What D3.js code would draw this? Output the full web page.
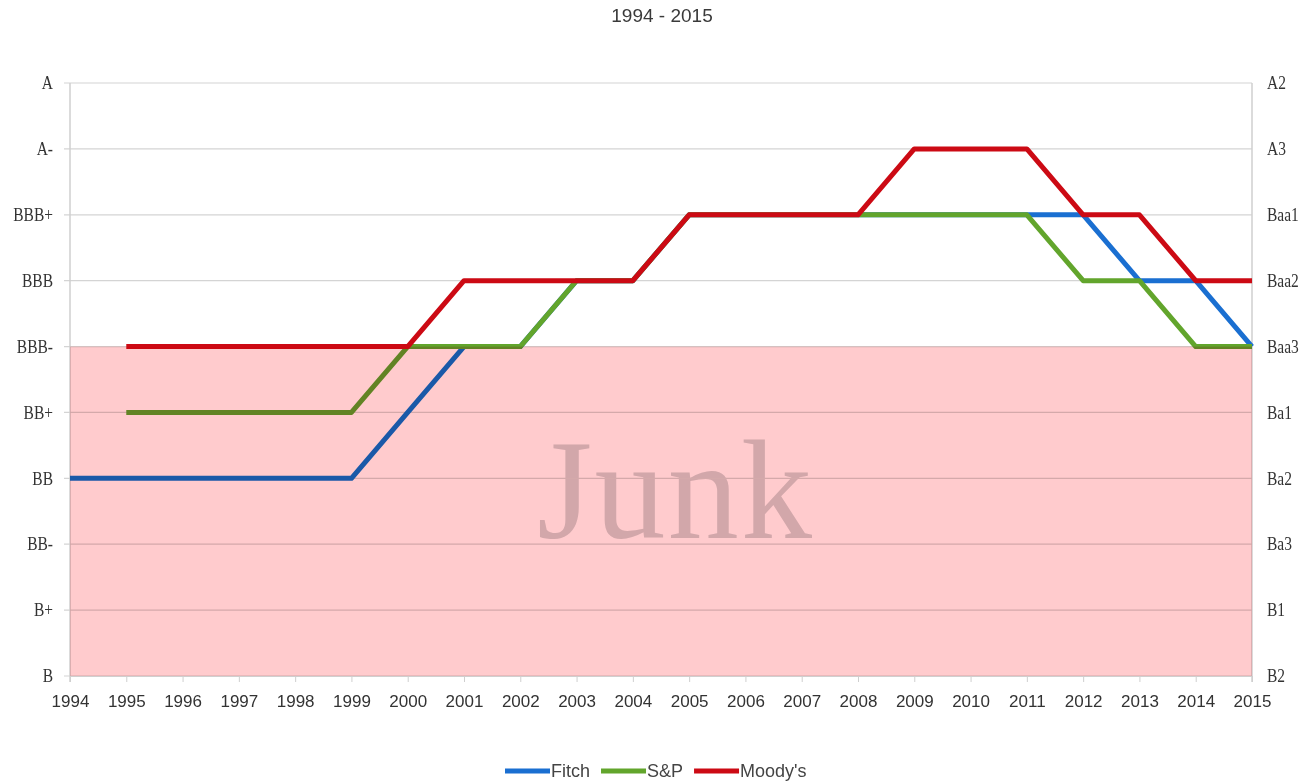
<!DOCTYPE html>
<html>
<head>
<meta charset="utf-8">
<script src="https://cdn.jsdelivr.net/npm/d3@7"></script>
<style>
  body { margin: 0; background: #fff; }
  svg { display: block; }
</style>
</head>
<body>
<div id="chart"></div>
<script>
// rating scale, bottom to top
var leftLabels = ["B", "B+", "BB-", "BB", "BB+", "BBB-", "BBB", "BBB+", "A-", "A"];
var rightLabels = ["B2", "B1", "Ba3", "Ba2", "Ba1", "Baa3", "Baa2", "Baa1", "A3", "A2"];
var years = d3.range(1994, 2016);

// rating index per year (null = no rating)
var fitch = [3, 3, 3, 3, 3, 3, 4, 5, 5, 6, 6, 7, 7, 7, 7, 7, 7, 7, 7, 6, 6, 5];
var sp = [null, 4, 4, 4, 4, 4, 5, 5, 5, 6, 6, 7, 7, 7, 7, 7, 7, 7, 6, 6, 5, 5];
var moodys = [null, 5, 5, 5, 5, 5, 5, 6, 6, 6, 6, 7, 7, 7, 7, 8, 8, 8, 7, 7, 6, 6];
var junkTop = 5; // BBB- and below is junk

var series = [
  {name: "Fitch", values: fitch, color: "#1a6fd1"},
  {name: "S&P", values: sp, color: "#62a52c"},
  {name: "Moody's", values: moodys, color: "#cc0a14"}
];

var width = 1312, height = 781;
var margin = {top: 83, right: 60, bottom: 105, left: 70};
var sans = "Liberation Sans, Arial, sans-serif";
var serif = "Liberation Serif, serif";

var svg = d3.select("#chart").append("svg")
  .attr("width", width)
  .attr("height", height);

x = d3.scaleLinear()
  .domain([1994, 2015])
  .range([margin.left, width - margin.right]);

y = d3.scaleLinear()
  .domain([0, leftLabels.length - 1])
  .range([height - margin.bottom, margin.top]);

// title
svg.append("text")
  .attr("x", 662)
  .attr("y", 22)
  .attr("text-anchor", "middle")
  .attr("font-family", sans)
  .attr("font-size", 19)
  .attr("fill", "#3a3a3a")
  .text("1994 - 2015");

// watermark (gets tinted by the junk band below)
svg.append("text")
  .attr("x", 537)
  .attr("y", 538)
  .attr("font-family", serif)
  .attr("font-size", 142)
  .attr("textLength", 275)
  .attr("lengthAdjust", "spacing")
  .attr("fill", "#d2d2d4")
  .text("Junk");

// gridlines
svg.append("g")
  .selectAll("line")
  .data(d3.range(leftLabels.length))
  .enter().append("line")
  .attr("x1", margin.left - 6)
  .attr("x2", width - margin.right)
  .attr("y1", d => y(d))
  .attr("y2", d => y(d))
  .attr("stroke", "#d4d4d4")
  .attr("stroke-width", 1.2);

// frame sides
[1994, 2015].forEach(function(yr) {
  svg.append("line")
    .attr("x1", x(yr)).attr("x2", x(yr))
    .attr("y1", y(9)).attr("y2", y(0) + 6)
    .attr("stroke", "#cfcfcf").attr("stroke-width", 1.5);
});

// x axis
xAxis = g => g
  .attr("transform", `translate(0,${y(0)})`)
  .call(d3.axisBottom(x).tickValues(years).tickFormat(d3.format("d")).tickSize(6).tickSizeOuter(0).tickPadding(13))
  .call(g => g.select(".domain").attr("stroke", "#cfcfcf"))
  .call(g => g.selectAll(".tick line").attr("stroke", "#cfcfcf"))
  .call(g => g.selectAll(".tick text")
    .attr("font-family", sans)
    .attr("font-size", 17)
    .attr("fill", "#333"));
svg.append("g").call(xAxis);

// squeeze the serif rating labels a bit
function condense(g) {
  g.selectAll(".tick text").each(function() {
    var w = this.getComputedTextLength();
    d3.select(this).attr("textLength", w * 0.86).attr("lengthAdjust", "spacingAndGlyphs");
  });
}

yAxisL = g => g
  .attr("transform", `translate(${margin.left},0)`)
  .call(d3.axisLeft(y).tickValues(d3.range(leftLabels.length)).tickFormat(i => leftLabels[i]).tickSize(0).tickPadding(17))
  .call(g => g.select(".domain").remove())
  .call(g => g.selectAll(".tick text")
    .attr("font-family", serif)
    .attr("font-size", 18)
    .attr("fill", "#333"))
  .call(condense);
svg.append("g").call(yAxisL);

yAxisR = g => g
  .attr("transform", `translate(${width - margin.right},0)`)
  .call(d3.axisRight(y).tickValues(d3.range(rightLabels.length)).tickFormat(i => rightLabels[i]).tickSize(0).tickPadding(15))
  .call(g => g.select(".domain").remove())
  .call(g => g.selectAll(".tick text")
    .attr("font-family", serif)
    .attr("font-size", 18)
    .attr("fill", "#333"))
  .call(condense);
svg.append("g").call(yAxisR);

// rating lines
var line = d3.line()
  .defined(d => d.v !== null)
  .x(d => x(d.year))
  .y(d => y(d.v));

svg.append("g")
  .selectAll("path")
  .data(series)
  .enter().append("path")
  .attr("d", s => line(years.map((yr, i) => ({year: yr, v: s.values[i]}))))
  .attr("fill", "none")
  .attr("stroke", s => s.color)
  .attr("stroke-width", 5)
  .attr("stroke-linejoin", "round");

// junk zone, multiplied over everything inside it
svg.append("rect")
  .attr("x", x(1994))
  .attr("y", y(junkTop))
  .attr("width", x(2015) - x(1994))
  .attr("height", y(0) - y(junkTop))
  .attr("fill", "#ffcbcd")
  .style("mix-blend-mode", "multiply");

// legend
var legend = svg.append("g")
  .attr("transform", "translate(505,771)");
var lx = 0;
series.forEach(function(s) {
  legend.append("line")
    .attr("x1", lx).attr("x2", lx + 45)
    .attr("y1", 0).attr("y2", 0)
    .attr("stroke", s.color)
    .attr("stroke-width", 5);
  var t = legend.append("text")
    .attr("x", lx + 46)
    .attr("y", 6)
    .attr("font-family", sans)
    .attr("font-size", 18)
    .attr("fill", "#444")
    .text(s.name);
  lx += 46 + t.node().getComputedTextLength() + 11;
});
</script>
</body>
</html>
